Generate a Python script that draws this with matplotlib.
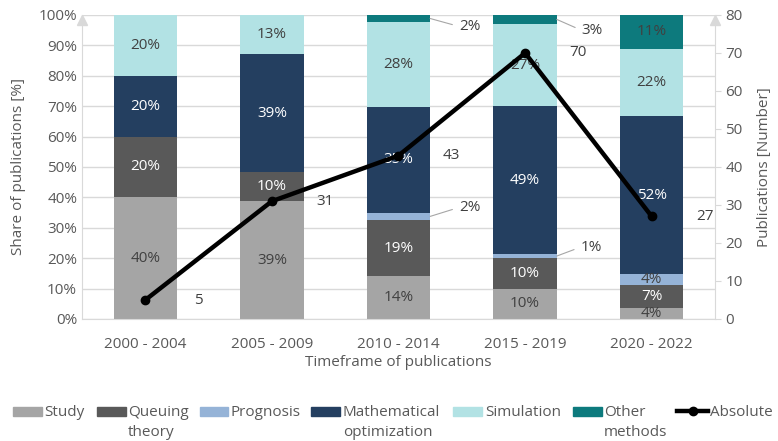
import numpy as np
import matplotlib
matplotlib.use("Agg")
import matplotlib.pyplot as plt
from matplotlib.patches import Rectangle
from matplotlib.lines import Line2D

plt.rcParams['font.family'] = ['Open Sans', 'DejaVu Sans']

# ================= DATA =================
timeframes = ["2000 - 2004", "2005 - 2009", "2010 - 2014", "2015 - 2019", "2020 - 2022"]
methods = ["Study", "Queuing\ntheory", "Prognosis", "Mathematical\noptimization",
           "Simulation", "Other\nmethods"]

# share of publications per method [%]
study = [40.0, 38.7, 14.0, 10.0, 3.7]
queuing = [20.0, 9.7, 18.6, 10.0, 7.4]
prognosis = [0.0, 0.0, 2.3, 1.4, 3.7]
math_opt = [20.0, 38.7, 34.9, 48.6, 51.9]
simulation = [20.0, 12.9, 27.9, 27.1, 22.2]
other = [0.0, 0.0, 2.3, 2.9, 11.1]

absolute = [5, 31, 43, 70, 27]

shares = [study, queuing, prognosis, math_opt, simulation, other]
colors = ["#a5a5a5", "#595959", "#95b3d7", "#243f60", "#b2e2e4", "#0d7a7d"]
label_colors = ["#404040", "white", "#404040", "white", "#404040", "#404040"]

# leader-line label offsets (pixels) for the small segments: (method index, bar index) -> offset
leader_offsets = {(5, 2): (29, -8), (2, 2): (29, 9), (5, 3): (25, -11), (2, 3): (24, 9)}

grey = "#595959"
light = "#d9d9d9"
fs = 11

# ================= FIGURE =================
fig = plt.figure(figsize=(7.78, 4.41), dpi=100)
ax = fig.add_axes([82 / 778, 1 - 319 / 441, 633 / 778, 304 / 441])
x = np.arange(len(timeframes))
width = 0.5

bottom = np.zeros(len(timeframes))
for k, vals in enumerate(shares):
    vals = np.array(vals)
    ax.bar(x, vals, width, bottom=bottom, color=colors[k], zorder=2)
    for i, v in enumerate(vals):
        if v <= 0:
            continue
        yc = bottom[i] + v / 2
        txt = f"{round(v)}%"
        if (k, i) in leader_offsets:
            ax.annotate(txt, xy=(x[i] + width / 2, yc), xytext=leader_offsets[(k, i)],
                        textcoords="offset pixels", ha="left", va="center",
                        fontsize=fs, color="#404040", zorder=3,
                        arrowprops=dict(arrowstyle="-", color="#a6a6a6", lw=0.8,
                                        shrinkA=3, shrinkB=0, relpos=(0, 0.5)))
        else:
            ax.text(x[i], yc, txt, ha="center", va="center", fontsize=fs,
                    color=label_colors[k], zorder=3)
    bottom += vals

ax.set_xlim(-0.5, len(timeframes) - 0.5)
ax.set_ylim(0, 100)
ax.set_yticks(np.arange(0, 101, 10))
ax.set_yticklabels([f"{t}%" for t in range(0, 101, 10)])
ax.set_xticks(x)
ax.set_xticklabels(timeframes)
ax.tick_params(axis="both", colors=grey, labelsize=fs, length=0)
ax.tick_params(axis="x", pad=13)
ax.grid(axis="y", color=light, lw=1, zorder=0)
for s in ["top", "right"]:
    ax.spines[s].set_visible(False)
ax.spines["left"].set_color(light)
ax.spines["bottom"].set_color(light)
ax.set_xlabel("Timeframe of publications", fontsize=fs, color=grey, labelpad=2)
ax.set_ylabel("Share of publications [%]", fontsize=fs, color=grey, labelpad=9)
ax.plot([0], [0.985], marker="^", ms=7, color=light, transform=ax.transAxes, clip_on=False)

# ================= ABSOLUTE LINE =================
ax2 = ax.twinx()
ax2.plot(x, absolute, color="black", lw=3.2, marker="o", ms=6)
for i, v in enumerate(absolute):
    ax2.annotate(str(v), xy=(x[i], v), xytext=(53, 0), textcoords="offset pixels",
                 ha="center", va="center", fontsize=fs, color="#404040")
ax2.set_ylim(0, 80)
ax2.set_yticks(np.arange(0, 81, 10))
ax2.tick_params(axis="y", colors=light, labelcolor=grey, labelsize=fs, length=4, direction="out")
for s in ["top", "left", "bottom"]:
    ax2.spines[s].set_visible(False)
ax2.spines["right"].set_color(light)
ax2.set_ylabel("Publications [Number]", fontsize=fs, color=grey, labelpad=10)
ax2.plot([1], [0.985], marker="^", ms=7, color=light, transform=ax2.transAxes, clip_on=False)

# ================= LEGEND =================
# (handle left, handle right, text left) in pixels
legend_pos = [(13, 42, 44), (97, 126, 128), (200, 228, 231), (311, 340, 343),
              (453, 482, 485), (573, 602, 604)]
ly = 411
for k, (h0, h1, t0) in enumerate(legend_pos):
    fig.add_artist(Rectangle((h0 / 778, 1 - (ly + 4.5) / 441), (h1 - h0) / 778, 9 / 441,
                             color=colors[k], transform=fig.transFigure))
    fig.text(t0 / 778, 1 - (ly - 6) / 441, methods[k], ha="left", va="top",
             multialignment="left", fontsize=fs, color=grey, linespacing=1.5)
fig.add_artist(Line2D([677 / 778, 708 / 778], [1 - ly / 441] * 2, color="black", lw=3.2,
                      transform=fig.transFigure))
fig.add_artist(Line2D([692.5 / 778], [1 - ly / 441], color="black", marker="o", ms=6,
                      transform=fig.transFigure))
fig.text(710 / 778, 1 - (ly - 6) / 441, "Absolute", ha="left", va="top", fontsize=fs, color=grey)

fig.savefig("out.png", dpi=100)
